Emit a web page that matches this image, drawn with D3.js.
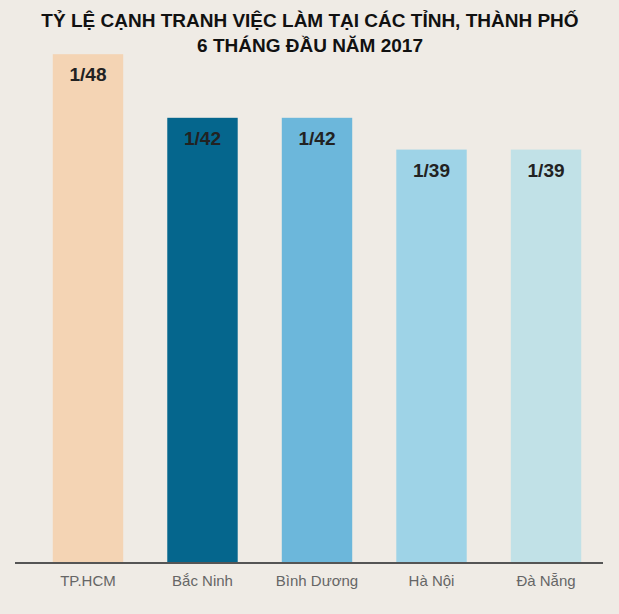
<!DOCTYPE html>
<html><head><meta charset="utf-8">
<script src="https://cdn.jsdelivr.net/npm/d3@7"></script>
<style>body{margin:0;background:#efebe5;}</style>
</head><body><div id="chart"></div>
<script>
// Data
var cities = ["TP.HCM", "Bắc Ninh", "Bình Dương", "Hà Nội", "Đà Nẵng"];
var ratios = [48, 42, 42, 39, 39];
var colors = ["#f4d4b4", "#05668d", "#6cb7db", "#9ed3e7", "#c1e1e7"];

var svgWidth = 619, svgHeight = 614;
var baseY = 563;

var svg = d3.select("#chart").append("svg")
  .attr("width", svgWidth).attr("height", svgHeight)
  .style("font-family", "Arial, 'Liberation Sans', sans-serif");

svg.append("rect").attr("width", svgWidth).attr("height", svgHeight).attr("fill", "#efebe5");

// Title
svg.append("text").attr("x", 310).attr("y", 27).attr("text-anchor", "middle")
  .attr("font-size", "19px").attr("font-weight", "bold").attr("fill", "#111")
  .text("TỶ LỆ CẠNH TRANH VIỆC LÀM TẠI CÁC TỈNH, THÀNH PHỐ");
svg.append("text").attr("x", 310).attr("y", 52).attr("text-anchor", "middle")
  .attr("font-size", "19px").attr("font-weight", "bold").attr("fill", "#111")
  .text("6 THÁNG ĐẦU NĂM 2017");

// Scales
var x = d3.scaleBand().domain(cities).range([31, 603]).paddingInner(0.385).paddingOuter(0.19);
var y = d3.scaleLinear().domain([0, 50]).range([baseY, baseY - 530]);

var bars = svg.selectAll(".bar").data(cities).enter();

bars.append("rect")
  .attr("x", d => x(d))
  .attr("y", (d, i) => y(ratios[i]))
  .attr("width", x.bandwidth())
  .attr("height", (d, i) => baseY - y(ratios[i]))
  .attr("fill", (d, i) => colors[i]);

bars.append("text")
  .attr("x", d => x(d) + x.bandwidth() / 2)
  .attr("y", (d, i) => y(ratios[i]) + 27)
  .attr("text-anchor", "middle")
  .attr("font-size", "19px").attr("font-weight", "bold").attr("fill", "#222")
  .text((d, i) => "1/" + ratios[i]);

// Axis
var xAxis = svg.append("g").attr("transform", `translate(0, ${baseY})`)
  .call(d3.axisBottom(x).tickSize(0).tickPadding(12));
xAxis.select(".domain").attr("d", "M15,0H603").attr("stroke", "#555").attr("stroke-width", 2);
xAxis.selectAll("text").attr("font-size", "15px").attr("fill", "#666")
  .style("font-family", "Arial, 'Liberation Sans', sans-serif");
</script></body></html>
